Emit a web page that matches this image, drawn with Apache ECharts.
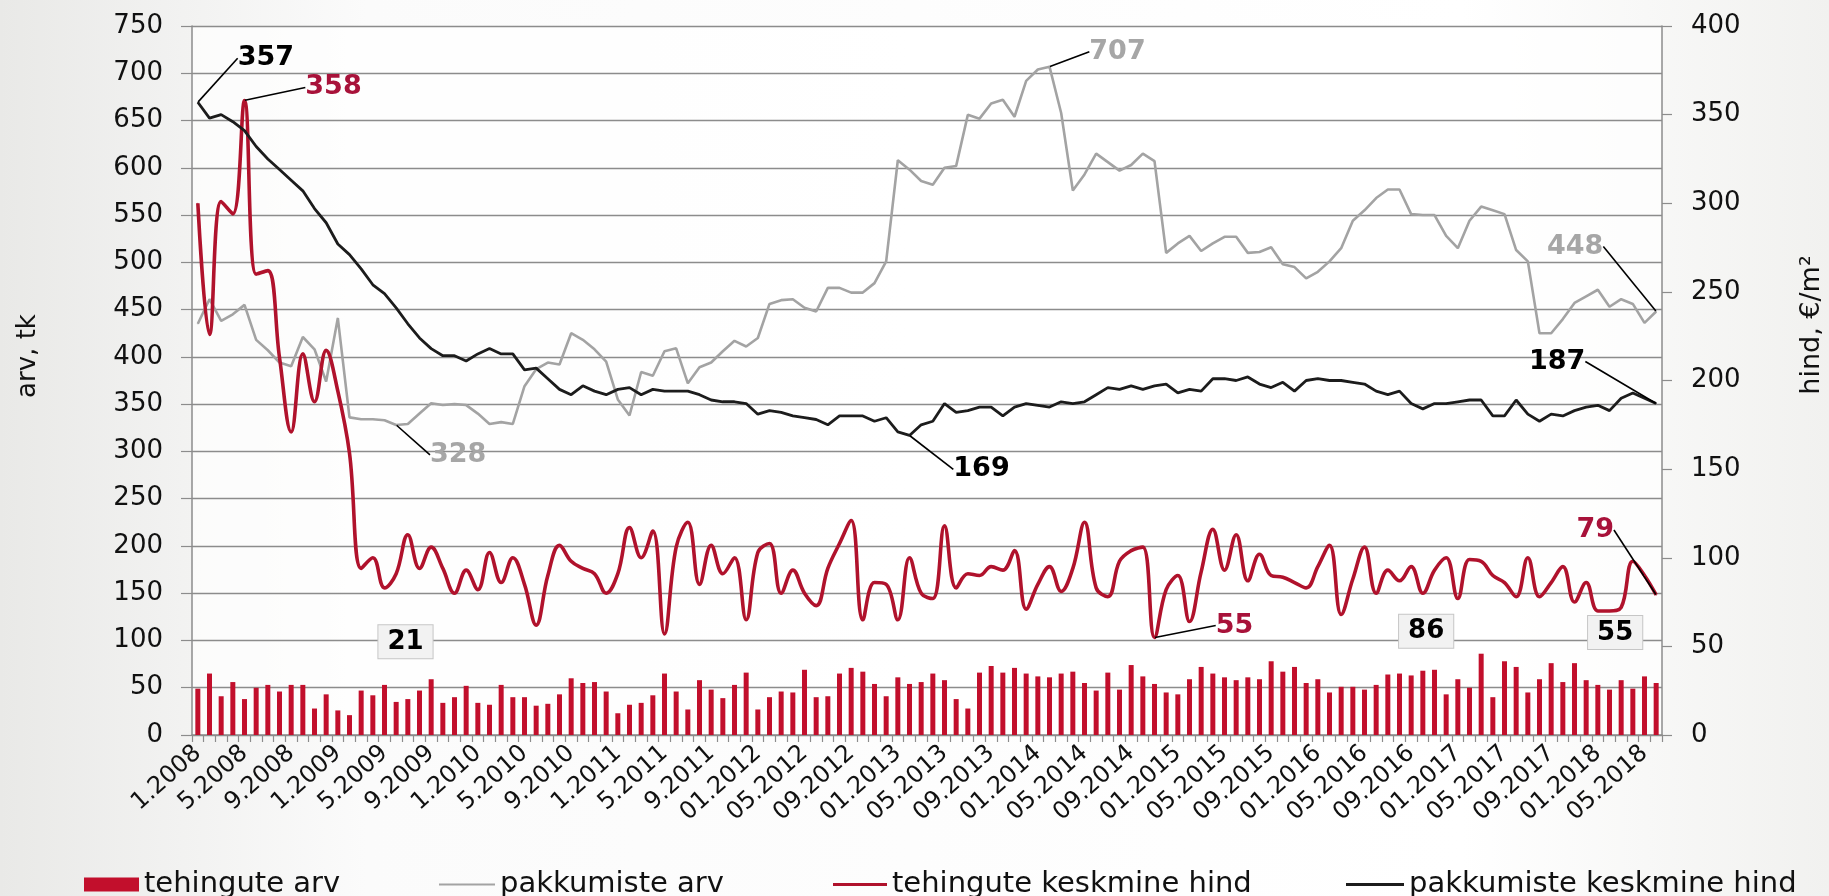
<!DOCTYPE html>
<html>
<head>
<meta charset="utf-8">
<script src="https://cdn.jsdelivr.net/npm/echarts@6/dist/echarts.min.js"></script>
<style>
  html, body { margin: 0; padding: 0; }
  #main { width: 1829px; height: 896px; }
</style>
</head>
<body>
<div id="main"></div>
<script>
// kuud 1.2008 ... 6.2018
var months = [];
for (var y = 2008; y <= 2018; y++) {
    for (var m = 1; m <= 12; m++) {
        if (y === 2018 && m > 6) break;
        months.push((y < 2012 ? m : (m < 10 ? '0' + m : m)) + '.' + y);
    }
}

// tehingute arv (vasak telg)
var tehinguteArv = [
    49, 65, 41, 56, 38, 50, 53, 46, 53, 53, 28, 43, 26, 21, 47, 42, 53, 35, 38, 47, 59,
    34, 40, 52, 34, 32, 53, 40, 40, 31, 33, 43, 60, 55, 56, 46, 23, 32, 34, 42, 65, 46,
    27, 58, 48, 39, 53, 66, 27, 40, 46, 45, 69, 40, 41, 65, 71, 67, 54, 41, 61, 54, 56,
    65, 58, 38, 28, 66, 73, 66, 71, 65, 62, 61, 65, 67, 55, 47, 66, 48, 74, 62, 54, 45,
    43, 59, 72, 65, 61, 58, 61, 59, 78, 67, 72, 55, 59, 45, 51, 51, 48, 53, 64, 65, 63,
    68, 69, 43, 59, 50, 86, 40, 78, 72, 45, 59, 76, 56, 76, 58, 53, 48, 58, 49, 62, 55
];
// pakkumiste arv (vasak telg)
var pakkumisteArv = [
    435, 461, 438, 445, 455, 418, 407, 394, 390, 421, 408, 374, 441, 336, 334, 334, 333, 328, 329, 340, 351,
    349, 350, 349, 340, 329, 331, 329, 369, 387, 394, 392, 425, 418, 408, 395, 355, 338, 384, 380, 406, 409,
    372, 389, 394, 406, 417, 411, 420, 456, 460, 461, 452, 448, 473, 473, 468, 468, 478, 501, 608, 598, 586,
    582, 600, 602, 656, 652, 668, 672, 654, 692, 704, 707, 658, 576, 593, 615, 606, 597, 603, 615, 607, 510,
    520, 528, 512, 520, 527, 527, 510, 511, 516, 498, 495, 483, 490, 501, 515, 544, 555, 568, 577, 577, 551,
    550, 550, 528, 515, 544, 559, 555, 551, 513, 501, 425, 425, 440, 457, 464, 471, 453, 461, 456, 436, 448
];
// tehingute keskmine hind (parem telg)
var tehinguteHind = [
    300, 226, 301, 294, 358, 260, 262, 213, 171, 215, 188, 217, 194, 159, 94, 100, 83, 91, 113, 94, 106,
    94, 80, 93, 82, 103, 86, 100, 85, 62, 90, 107, 98, 94, 91, 80, 91, 117, 100, 115, 57, 106,
    120, 85, 107, 91, 100, 65, 103, 108, 80, 93, 80, 73, 94, 108, 121, 65, 86, 85, 65, 100, 80,
    77, 118, 83, 91, 90, 95, 93, 104, 71, 85, 95, 81, 94, 120, 83, 78, 98, 104, 106, 55, 82,
    90, 64, 92, 116, 93, 113, 87, 102, 90, 89, 86, 83, 95, 107, 68, 88, 106, 80, 93, 87, 95,
    80, 93, 100, 77, 99, 98, 90, 86, 78, 100, 78, 86, 95, 75, 86, 70, 70, 72, 98, 90, 79
];
// pakkumiste keskmine hind (parem telg)
var pakkumisteHind = [
    357, 348, 350, 346, 341, 332, 325, 319, 313, 307, 297, 289, 277, 271, 263, 254, 249, 241, 232, 224, 218,
    214, 214, 211, 215, 218, 215, 215, 206, 207, 201, 195, 192, 197, 194, 192, 195, 196, 192, 195, 194, 194,
    194, 192, 189, 188, 188, 187, 181, 183, 182, 180, 179, 178, 175, 180, 180, 180, 177, 179, 171, 169, 175,
    177, 187, 182, 183, 185, 185, 180, 185, 187, 186, 185, 188, 187, 188, 192, 196, 195, 197, 195, 197, 198,
    193, 195, 194, 201, 201, 200, 202, 198, 196, 199, 194, 200, 201, 200, 200, 199, 198, 194, 192, 194, 187,
    184, 187, 187, 188, 189, 189, 180, 180, 189, 181, 177, 181, 180, 183, 185, 186, 183, 190, 193, 190, 187
];

// siltide nihked [dx, dy]
var barLabelPos = {13: [56, -52], 110: [-55, -1], 125: [-41, -29]};
var greyLabelPos = {17: [62, 30], 73: [68, -15], 125: [-81, -65]};
var redLabelPos = {4: [89, -13], 82: [80, -12], 125: [-61, -65]};
var blackLabelPos = {0: [68, -44], 61: [72, 34], 125: [-99, -42]};

var FONT = 'DejaVu Sans';

function lineData(values, pos, color) {
    return values.map(function (v, i) {
        if (!pos[i]) return v;
        return {value: v, label: {show: true, color: color}};
    });
}
function layoutFor(pos) {
    return function (p) {
        var o = pos[p.dataIndex];
        return o ? {dx: o[0], dy: o[1]} : {};
    };
}
var lineLabel = {
    show: false, position: 'inside',
    fontFamily: FONT, fontSize: 27, fontWeight: 'bold'
};
var leader = {show: true, smooth: false, lineStyle: {color: '#000', width: 1.6}};

var barData = tehinguteArv.map(function (v, i) {
    if (!barLabelPos[i]) return v;
    return {value: v, label: {show: true, offset: barLabelPos[i]}};
});

var legendText = {fontSize: 29, color: '#111', fontFamily: FONT};

var chart = echarts.init(document.getElementById('main'));
chart.setOption({
    animation: false,
    backgroundColor: {
        type: 'linear', x: 0, y: 0, x2: 1, y2: 0,
        colorStops: [
            {offset: 0, color: '#e9e9e7'},
            {offset: 0.2, color: '#fbfbfb'},
            {offset: 0.8, color: '#ffffff'},
            {offset: 1, color: '#f1f1ef'}
        ]
    },
    textStyle: {fontFamily: FONT},
    grid: {left: 192, right: 167, top: 26, bottom: 161, show: true,
        backgroundColor: 'rgba(255,255,255,0.7)', borderWidth: 0},
    graphic: [
        {type: 'text', x: 28, y: 356, rotation: Math.PI / 2,
            style: {text: 'arv, tk', fontFamily: FONT, fontSize: 26, fill: '#111',
                textAlign: 'center', textVerticalAlign: 'middle'}},
        {type: 'text', x: 1812, y: 325, rotation: Math.PI / 2,
            style: {text: 'hind, €/m²', fontFamily: FONT, fontSize: 27, fill: '#111',
                textAlign: 'center', textVerticalAlign: 'middle'}}
    ],
    legend: [
        {left: 79, top: 865, data: [{name: 'tehingute arv', icon: 'rect'}], itemWidth: 55, itemHeight: 14,
            textStyle: legendText},
        {left: 434, top: 865, data: [{name: 'pakkumiste arv', icon: 'rect'}], itemWidth: 56, itemHeight: 2,
            textStyle: legendText},
        {left: 828, top: 865, data: [{name: 'tehingute keskmine hind', icon: 'rect'}], itemWidth: 54, itemHeight: 3,
            textStyle: legendText},
        {left: 1341, top: 865, data: [{name: 'pakkumiste keskmine hind', icon: 'rect'}], itemWidth: 58, itemHeight: 3,
            textStyle: legendText}
    ],
    xAxis: {
        type: 'category',
        data: months,
        boundaryGap: true,
        axisLine: {lineStyle: {color: '#8c8c8c', width: 1.5}},
        axisTick: {show: true, interval: 0, length: 7, lineStyle: {color: '#8c8c8c', width: 1.2}},
        axisLabel: {interval: 3, rotate: 42, fontSize: 24, color: '#111', margin: 15, fontFamily: FONT},
        splitLine: {show: false}
    },
    yAxis: [
        {
            type: 'value', min: 0, max: 750, interval: 50, position: 'left',
            axisLine: {show: true, lineStyle: {color: '#8c8c8c', width: 1.5}},
            axisTick: {show: true, length: 11, lineStyle: {color: '#8c8c8c', width: 1.2}},
            axisLabel: {fontSize: 26, color: '#111', margin: 29, fontFamily: FONT},
            splitLine: {show: true, lineStyle: {color: '#8c8c8c', width: 1.3}}
        },
        {
            type: 'value', min: 0, max: 400, interval: 50, position: 'right',
            axisLine: {show: true, lineStyle: {color: '#8c8c8c', width: 1.5}},
            axisTick: {show: true, length: 10, lineStyle: {color: '#8c8c8c', width: 1.2}},
            axisLabel: {fontSize: 26, color: '#111', margin: 29, fontFamily: FONT},
            splitLine: {show: false}
        }
    ],
    series: [
        {
            name: 'tehingute arv', type: 'bar', yAxisIndex: 0, z: 5,
            data: barData, barWidth: 5,
            itemStyle: {color: '#c20f2c'},
            label: {show: false, position: 'top', fontFamily: FONT, fontSize: 26, fontWeight: 'bold',
                color: '#000', backgroundColor: '#f2f2f2', borderColor: '#c6c6c6', borderWidth: 1,
                padding: [4, 9, 3, 9]}
        },
        {
            name: 'pakkumiste arv', type: 'line', yAxisIndex: 0, z: 2,
            data: lineData(pakkumisteArv, greyLabelPos, '#a6a6a6'),
            showSymbol: true, showAllSymbol: true, symbol: 'circle', symbolSize: 1,
            itemStyle: {color: '#a3a3a3'},
            lineStyle: {color: '#a3a3a3', width: 2.6},
            label: lineLabel, labelLine: leader, labelLayout: layoutFor(greyLabelPos)
        },
        {
            name: 'tehingute keskmine hind', type: 'line', yAxisIndex: 1, z: 3,
            data: lineData(tehinguteHind, redLabelPos, '#a8123a'),
            smooth: 0.4,
            showSymbol: true, showAllSymbol: true, symbol: 'circle', symbolSize: 1,
            itemStyle: {color: '#b0122c'},
            lineStyle: {color: '#b0122c', width: 3.6},
            label: lineLabel, labelLine: leader, labelLayout: layoutFor(redLabelPos)
        },
        {
            name: 'pakkumiste keskmine hind', type: 'line', yAxisIndex: 1, z: 4,
            data: lineData(pakkumisteHind, blackLabelPos, '#000'),
            showSymbol: true, showAllSymbol: true, symbol: 'circle', symbolSize: 1,
            itemStyle: {color: '#1c1c1c'},
            lineStyle: {color: '#1c1c1c', width: 2.8},
            label: lineLabel, labelLine: leader, labelLayout: layoutFor(blackLabelPos)
        }
    ]
});
</script>
</body>
</html>
